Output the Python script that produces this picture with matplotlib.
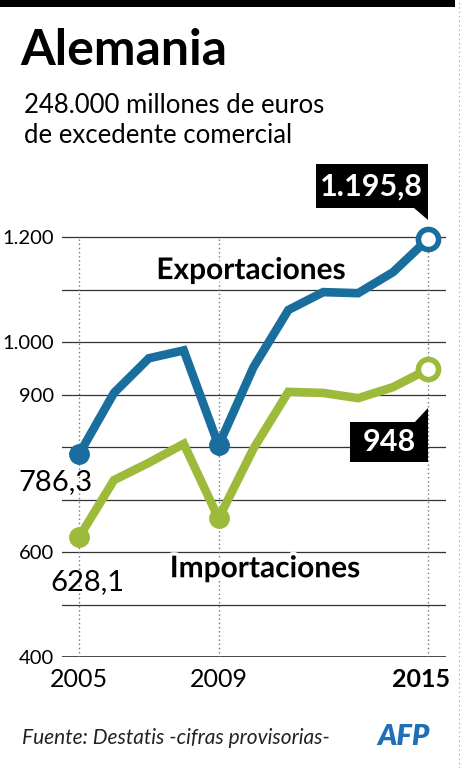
import matplotlib
matplotlib.use("Agg")
import matplotlib.pyplot as plt
import matplotlib.patheffects as pe
import matplotlib.transforms as mtransforms
from matplotlib.patches import Rectangle, Polygon

years = list(range(2005, 2016))
exportaciones = [786.3, 903, 969, 984, 803, 952, 1061, 1095, 1093, 1133, 1195.8]
importaciones = [628.1, 737, 770, 806, 664, 797, 905, 903, 893, 914, 948]
ytick_vals = [400, 600, 900, 1000, 1200]
ytick_labels = ["400", "600", "900", "1.000", "1.200"]
xtick_vals = [2005, 2009, 2015]

blue = "#1a6e9e"
green = "#9dbb3a"

plt.rcParams['font.family'] = ['Lato', 'DejaVu Sans']

W, H = 461, 768
fig = plt.figure(figsize=(W / 100, H / 100), dpi=100)
fig.patch.set_facecolor("white")

def px(x, y):
    return x / W, 1 - y / H

# top black bar
fig.patches.append(Rectangle((0, 1 - 7 / H), 455 / W, 7 / H, transform=fig.transFigure,
                             fc="black", ec="none"))

ax = fig.add_axes([62 / W, 1 - 657 / H, 384 / W, (657 - 184.5) / H])
ax.set_xlim(2004.51, 2015.52)
ax.set_ylim(400, 1300)
for s in ax.spines.values():
    s.set_visible(False)

# grid
for v in range(500, 1300, 100):
    ax.axhline(v, color="#333333", lw=0.9, zorder=1)
ax.axhline(400, color="#111111", lw=1.8, zorder=1)
for x in xtick_vals:
    ax.plot([x, x], [400, 1200], color="#777777", lw=1, ls=(0, (1, 2)), zorder=1)

ax.set_yticks(ytick_vals)
ax.set_yticklabels(ytick_labels, fontsize=14.5)
ax.set_xticks([])
ax.tick_params(length=0, pad=6)

# x labels (last one bold and nudged left, as in the original)
for x in xtick_vals:
    bold = x == xtick_vals[-1]
    tr = mtransforms.offset_copy(ax.get_xaxis_transform(), fig=fig, x=-5 if bold else 0, y=-8, units="points")
    ax.text(x, 0, str(x), transform=tr, fontsize=18, fontweight="bold" if bold else "normal",
            ha="center", va="top")

# lines
ax.plot(years, exportaciones, color=blue, lw=6.2, solid_joinstyle="miter", zorder=3, clip_on=False)
ax.plot(years, importaciones, color=green, lw=6.2, solid_joinstyle="miter", zorder=3, clip_on=False)
for i in (0, 4):
    ax.plot(years[i], exportaciones[i], "o", color=blue, ms=14, zorder=4)
    ax.plot(years[i], importaciones[i], "o", color=green, ms=14, zorder=4)
ax.plot(years[-1], exportaciones[-1], "o", mfc="white", mec=blue, ms=14.5, mew=4, zorder=5, clip_on=False)
ax.plot(years[-1], importaciones[-1], "o", mfc="white", mec=green, ms=14.5, mew=4, zorder=5, clip_on=False)

stroke = [pe.withStroke(linewidth=5, foreground="white")]
ax.text(2009.93, 1137, "Exportaciones", fontsize=21.5, fontweight="bold", ha="center", va="center",
        zorder=6, path_effects=stroke)
ax.text(2010.33, 569, "Importaciones", fontsize=21.5, fontweight="bold", ha="center", va="center",
        zorder=6, path_effects=stroke)
ax.text(2004.31, 733, "786,3", fontsize=21, ha="center", va="center", zorder=6)
ax.text(2005.23, 543, "628,1", fontsize=21, ha="center", va="center", zorder=6)

# callouts
def callout(xv, yv, text, box, tri, textpos):
    tr = mtransforms.Affine2D().scale(fig.dpi / 72) + mtransforms.ScaledTranslation(xv, yv, ax.transData)
    (x0, y0, w, h) = box
    ax.add_patch(Rectangle((x0, y0), w, h, transform=tr, fc="black", ec="none", zorder=7, clip_on=False))
    ax.add_patch(Polygon(tri, closed=True, transform=tr, fc="black", ec="none", zorder=7, clip_on=False))
    ax.text(textpos[0], textpos[1], text, transform=tr, color="white", fontsize=22, fontweight="bold",
            ha="center", va="center", zorder=8)

callout(years[-1], exportaciones[-1], "1.195,8", (-80.6, 22.3, 80.6, 31.7),
        [(-10, 22.5), (0, 22.5), (0, 14)], (-40.3, 38))
callout(years[-1], importaciones[-1], "948", (-56, -67, 56, 29),
        [(0, -28), (0, -38.5), (-10, -38.5)], (-28, -52.5))

# titles
fig.text(*px(20, 65), "Alemania", fontsize=36, fontweight="bold", ha="left", va="baseline")
fig.text(*px(24, 113), "248.000 millones de euros", fontsize=18.5, ha="left", va="baseline")
fig.text(*px(24, 143), "de excedente comercial", fontsize=18.5, ha="left", va="baseline")

# footer
fig.text(*px(22, 744), "Fuente: Destatis -cifras provisorias-", fontsize=15, style="italic",
         ha="left", va="baseline", color="#222222")
fig.text(*px(403, 745), "AFP", fontsize=21, fontweight="heavy", style="italic", color="#1f6fb6",
         ha="center", va="baseline")

# right border dots
fig.add_artist(plt.Line2D([459 / W, 459 / W], [0, 1], transform=fig.transFigure, color="#999999",
                          lw=0.8, ls=(0, (1, 3))))

fig.savefig("out.png", dpi=100)
